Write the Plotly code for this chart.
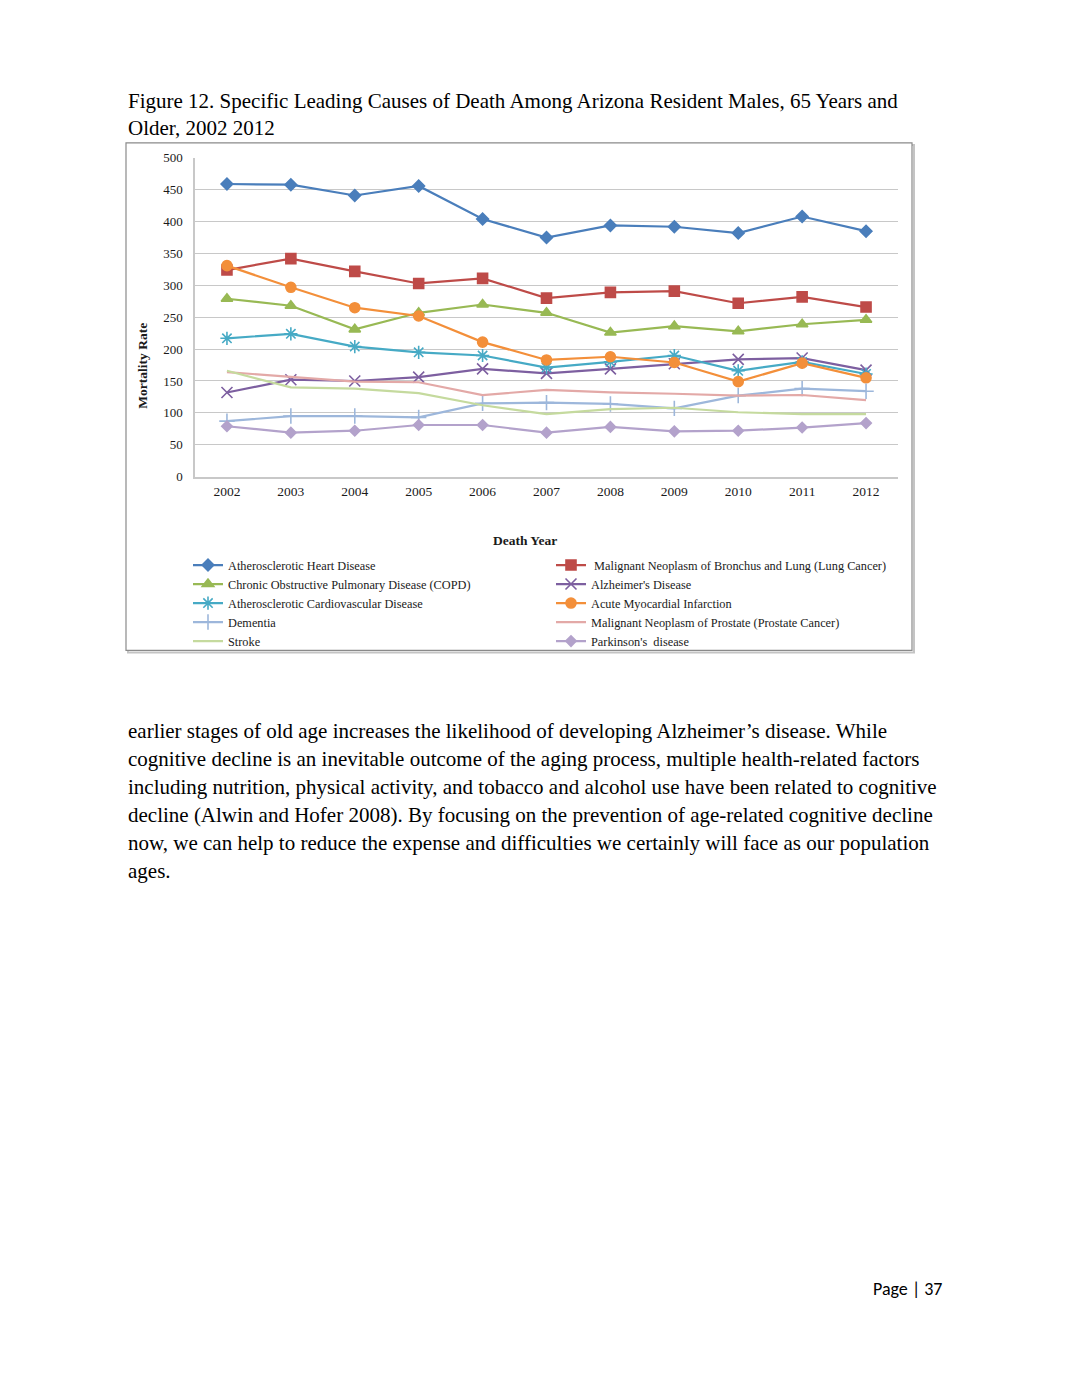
import plotly.graph_objects as go

W, H = 1071, 1386
XOFF = 8      # page margin (horizontal)
YOFF = 14     # measured vertical offset of the rendered page
YSCALE = 0.99  # measured vertical scale of the rendered page

years = [2002, 2003, 2004, 2005, 2006, 2007, 2008, 2009, 2010, 2011, 2012]

heart = [459, 458, 441, 456, 404, 375, 394, 392, 382, 408, 385]
lung = [324, 342, 322, 303, 311, 280, 289, 291, 272, 282, 266]
copd = [279, 268, 231, 257, 270, 257, 226, 236, 228, 239, 246]
alzheimer = [132, 152, 150, 156, 169, 162, 169, 177, 184, 186, 167]
acvd = [217, 224, 204, 195, 190, 171, 180, 190, 166, 180, 161]
ami = [331, 297, 265, 252, 211, 183, 188, 179, 149, 178, 155]
dementia = [87, 95, 95, 93, 115, 116, 114, 107, 127, 138, 134]
prostate = [164, 157, 149, 148, 128, 136, 132, 130, 127, 128, 120]
stroke = [166, 140, 138, 131, 112, 98, 106, 108, 101, 98, 98]
parkinson = [79, 69, 72, 81, 81, 69, 78, 71, 72, 77, 84]

names = [
    "Atherosclerotic Heart Disease",
    " Malignant Neoplasm of Bronchus and Lung (Lung Cancer)",
    "Chronic Obstructive Pulmonary Disease (COPD)",
    "Alzheimer's Disease",
    "Atherosclerotic Cardiovascular Disease",
    "Acute Myocardial Infarction",
    "Dementia",
    "Malignant Neoplasm of Prostate (Prostate Cancer)",
    "Stroke",
    "Parkinson's  disease",
]
series = [heart, lung, copd, alzheimer, acvd, ami, dementia, prostate, stroke, parkinson]
colors = ["#4A7EBB", "#BE4B48", "#98B954", "#7D5FA0", "#46AAC5", "#F38F3A",
          "#9DB7DB", "#E3A9A7", "#C5DA9E", "#B3A2CB"]
symbols = ["diamond", "square", "triangle-up", "x-thin-open", "asterisk-open", "circle",
           "cross-thin-open", None, None, "diamond"]
msizes = [9, 10, 10, 11, 11, 10, 11, 0, 0, 8]


def px(x):
    return (x - XOFF) / W


def py(y):
    return 1 - ((y - YOFF) / YSCALE) / H


fig = go.Figure()
for nm, vals, c, s, ms in zip(names, series, colors, symbols, msizes):
    if s is None:
        fig.add_trace(go.Scatter(x=years, y=vals, name=nm, mode="lines",
                                 line=dict(color=c, width=2.2)))
    else:
        fig.add_trace(go.Scatter(x=years, y=vals, name=nm, mode="lines+markers",
                                 line=dict(color=c, width=2.2),
                                 marker=dict(symbol=s, size=ms, color=c,
                                             line=dict(color=c, width=1.6))))

serif = "Liberation Serif"
ytickfont = dict(family=serif, size=13, color="#1a1a1a")
xtickfont = dict(family=serif, size=13.5, color="#1a1a1a")

fig.update_layout(
    width=W, height=H,
    margin=dict(l=0, r=0, t=0, b=0),
    paper_bgcolor="white", plot_bgcolor="white",
    showlegend=True,
    legend=dict(orientation="h", x=px(188), y=py(550), xanchor="left", yanchor="top",
                entrywidth=318, entrywidthmode="pixels",
                font=dict(family=serif, size=12.3, color="#1a1a1a"),
                bgcolor="rgba(0,0,0,0)", itemwidth=30, traceorder="normal"),
    xaxis=dict(domain=[px(195), px(898)], range=[2001.5, 2012.5], dtick=1,
               showgrid=False, zeroline=False, showline=True, linecolor="#c8c8c8",
               linewidth=1.5, ticks="", tickfont=xtickfont, ticklabelstandoff=1),
    yaxis=dict(domain=[py(476), py(157)], range=[0, 500], dtick=50,
               showgrid=True, gridcolor="#c8c8c8", gridwidth=1.2, zeroline=False,
               showline=True, linecolor="#c8c8c8", linewidth=1.5, ticks="",
               tickfont=ytickfont, ticklabelstandoff=8),
)

# chart frame with shadow
fig.add_shape(type="rect", xref="paper", yref="paper",
              x0=px(128), x1=px(914), y0=py(652), y1=py(144),
              line=dict(color="#c4c4c4", width=2), layer="below")
fig.add_shape(type="rect", xref="paper", yref="paper",
              x0=px(126), x1=px(912), y0=py(650), y1=py(142),
              line=dict(color="#8a8a8a", width=1.2), fillcolor="white", layer="below")

# axis titles
fig.add_annotation(text="<b>Death Year</b>", xref="paper", yref="paper",
                   x=px(525), y=py(540), showarrow=False, xanchor="center", yanchor="middle",
                   font=dict(family=serif, size=13.5, color="#1a1a1a"))
fig.add_annotation(text="<b>Mortality Rate</b>", xref="paper", yref="paper",
                   x=px(143), y=py(365), showarrow=False, textangle=-90,
                   xanchor="center", yanchor="middle",
                   font=dict(family=serif, size=13.5, color="#1a1a1a"))

# caption
caption = [
    "Figure 12. Specific Leading Causes of Death Among Arizona Resident Males, 65 Years and",
    "Older, 2002 2012",
]
for i, line in enumerate(caption):
    fig.add_annotation(text=line, xref="paper", yref="paper", x=px(126), y=py(100 + 27 * i),
                       showarrow=False, xanchor="left", yanchor="middle",
                       font=dict(family=serif, size=21, color="black"))

body = [
    "earlier stages of old age increases the likelihood of developing Alzheimer\u2019s disease. While",
    "cognitive decline is an inevitable outcome of the aging process, multiple health-related factors",
    "including nutrition, physical activity, and tobacco and alcohol use have been related to cognitive",
    "decline (Alwin and Hofer 2008). By focusing on the prevention of age-related cognitive decline",
    "now, we can help to reduce the expense and difficulties we certainly will face as our population",
    "ages.",
]
for i, line in enumerate(body):
    fig.add_annotation(text=line, xref="paper", yref="paper", x=px(126), y=py(731 + 28 * i),
                       showarrow=False, xanchor="left", yanchor="middle",
                       font=dict(family=serif, size=21, color="black"))

fig.add_annotation(text="Page | 37", xref="paper", yref="paper", x=px(945), y=py(1289),
                   showarrow=False, xanchor="right", yanchor="middle",
                   font=dict(family="Carlito, Lato, sans-serif", size=18, color="black"))

fig.write_html("out.html")
